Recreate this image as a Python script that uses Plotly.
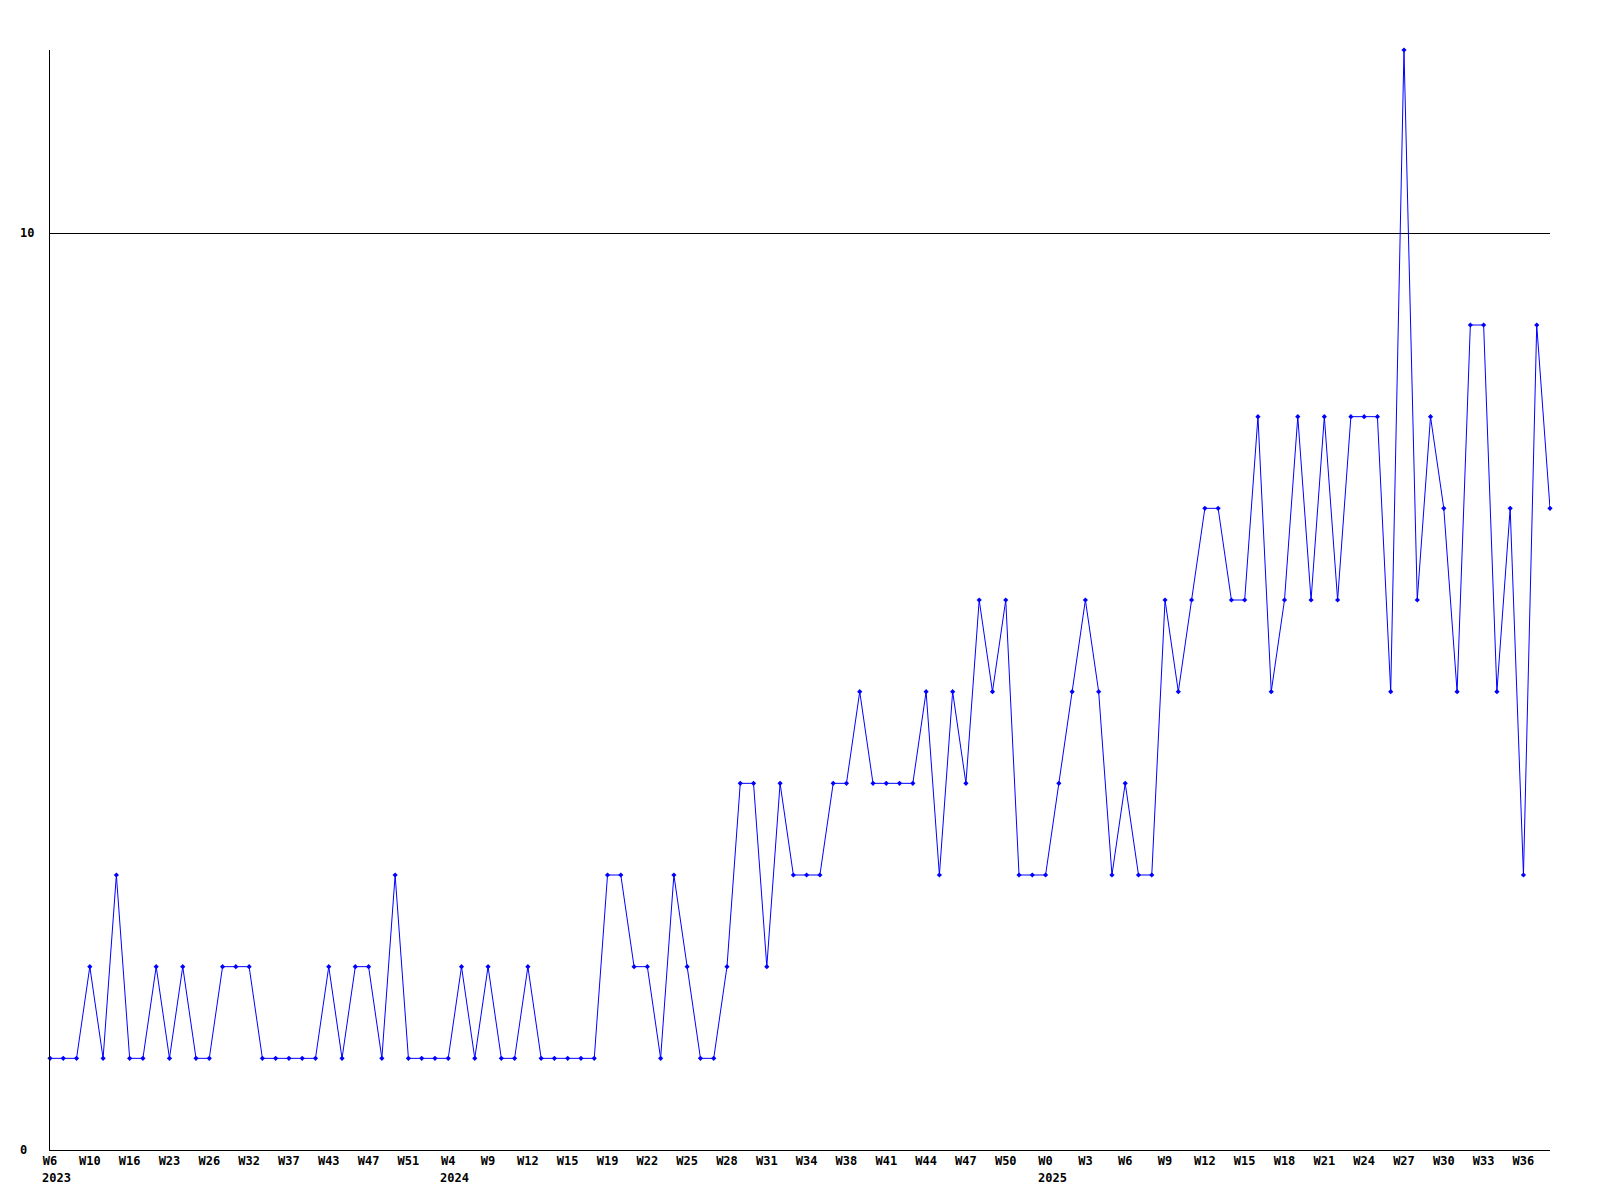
import plotly.graph_objects as go

# weekly counts, one point per week
values = [1, 1, 1, 2, 1, 3, 1, 1, 2, 1, 2, 1, 1, 2, 2, 2, 1, 1, 1, 1,
          1, 2, 1, 2, 2, 1, 3, 1, 1, 1, 1, 2, 1, 2, 1, 1, 2, 1, 1, 1,
          1, 1, 3, 3, 2, 2, 1, 3, 2, 1, 1, 2, 4, 4, 2, 4, 3, 3, 3, 4,
          4, 5, 4, 4, 4, 4, 5, 3, 5, 4, 6, 5, 6, 3, 3, 3, 4, 5, 6, 5,
          3, 4, 3, 3, 6, 5, 6, 7, 7, 6, 6, 8, 5, 6, 8, 6, 8, 6, 8, 8,
          8, 5, 12, 6, 8, 7, 5, 9, 9, 5, 7, 3, 9, 7]

week_labels = ["W6", "W10", "W16", "W23", "W26", "W32", "W37", "W43", "W47", "W51",
               "W4", "W9", "W12", "W15", "W19", "W22", "W25", "W28", "W31", "W34",
               "W38", "W41", "W44", "W47", "W50",
               "W0", "W3", "W6", "W9", "W12", "W15", "W18", "W21", "W24", "W27",
               "W30", "W33", "W36"]
label_step = 3

years = ["2023", "2024", "2025"]
year_index = [0, 30, 75]

y_ticks = [0, 10]
y_max = 12

x = list(range(len(values)))
tick_pos = [i * label_step for i in range(len(week_labels))]

font = dict(family="DejaVu Sans Mono", size=12, color="black", weight="bold")

fig = go.Figure()
fig.add_trace(go.Scatter(
    x=x, y=values, mode="lines+markers",
    line=dict(color="#0000ff", width=1),
    marker=dict(symbol="diamond", size=4, color="#0000ff"),
    cliponaxis=False, showlegend=False,
))

for yr, idx in zip(years, year_index):
    fig.add_annotation(x=idx, y=0, xref="x", yref="paper", text=yr,
                       showarrow=False, xanchor="left", yanchor="top",
                       xshift=-10, yshift=-19, font=font)

for v in y_ticks:
    fig.add_annotation(x=0, y=v, xref="paper", yref="y", text=str(v),
                       showarrow=False, xanchor="left", yanchor="middle",
                       xshift=-32, font=font)

fig.update_xaxes(range=[0, len(values) - 1], tickvals=tick_pos, ticktext=week_labels,
                 tickfont=font, showgrid=False, zeroline=False, showline=True,
                 linecolor="black", linewidth=1, ticks="")
fig.update_yaxes(range=[0, y_max], tickvals=y_ticks, showticklabels=False,
                 showgrid=True, gridcolor="black", gridwidth=1, zeroline=False,
                 showline=True, linecolor="black", linewidth=1, ticks="")

# page body adds an 8px offset, so margins are shifted to compensate
fig.update_layout(width=1600, height=1200, plot_bgcolor="white", paper_bgcolor="white",
                  margin=dict(l=42, r=58, t=42, b=58))

fig.write_html("out.html")
